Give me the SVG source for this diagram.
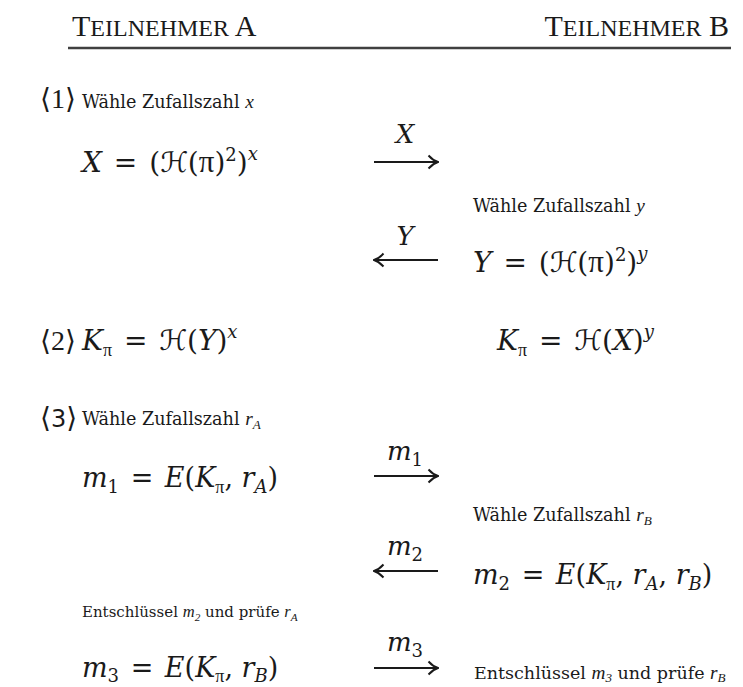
<svg xmlns="http://www.w3.org/2000/svg" width="743" height="687" viewBox="0 0 743 687">
<style>
.h{font-family:"Liberation Serif",serif;font-size:30px;fill:#1a1a1a}
.sc{font-size:24px}
.t{font-family:"DejaVu Serif",serif;font-size:17.6px;fill:#1a1a1a}
.t2{font-family:"DejaVu Serif",serif;font-size:15px;fill:#1a1a1a}
.t3{font-family:"DejaVu Serif",serif;font-size:17.5px;fill:#1a1a1a}
.m{font-family:"DejaVu Serif",serif;font-size:28px;fill:#1a1a1a}
.m2{font-family:"DejaVu Serif",serif;font-size:27px;fill:#1a1a1a}
.st{font-family:"Liberation Serif",serif;font-size:28px;fill:#1a1a1a}
.i{font-style:italic}
.cal{font-family:"DejaVu Serif","DejaVu Sans",serif;font-style:normal}
.pi{font-family:"Liberation Serif",serif;font-style:normal}
.sup{font-size:18px}
.sub{font-size:18px}
.ts{font-family:"Liberation Serif",serif;font-style:italic;font-size:1.1em}
.tsub{font-family:"Liberation Serif",serif;font-style:italic;font-size:0.75em}
.lbl{font-family:"DejaVu Serif",serif;font-size:26px;fill:#1a1a1a;text-anchor:middle}
.arr{stroke:#1a1a1a;stroke-width:2;fill:none}
</style>
<defs>
<marker id="ah" viewBox="0 0 12 16" refX="11" refY="8" markerWidth="12" markerHeight="16" markerUnits="userSpaceOnUse" orient="auto-start-reverse">
<path d="M1.5,1.5 Q6,6.5 11,8 Q6,9.5 1.5,14.5" fill="none" stroke="#1a1a1a" stroke-width="1.9"/>
</marker>
</defs>

<g id="header">
<text class="h" x="72" y="36">T<tspan class="sc">EILNEHMER</tspan> A</text>
<text class="h" x="729" y="36" text-anchor="end">T<tspan class="sc">EILNEHMER</tspan> B</text>
<line x1="68" y1="48" x2="731" y2="48" stroke="#404040" stroke-width="2.5"/>
</g>

<g id="step1">
<text class="st" x="40" y="108"><tspan class="cal">⟨</tspan>1<tspan class="cal">⟩</tspan></text>
</g>
<g id="a-choose-x">
<text class="t" x="82" y="108">Wähle Zufallszahl <tspan class="ts">x</tspan></text>
</g>
<g id="a-X">
<text class="m" x="82" y="172"><tspan class="i">X</tspan><tspan dx="3"> = </tspan><tspan dx="3">(</tspan><tspan class="cal">ℋ</tspan>(<tspan class="pi" font-size="31">π</tspan>)<tspan class="sup" dy="-11">2</tspan><tspan dy="11">)</tspan><tspan class="sup i" dy="-12">x</tspan></text>
</g>
<g id="b-choose-y">
<text class="t" x="473" y="212">Wähle Zufallszahl <tspan class="ts">y</tspan></text>
</g>
<g id="b-Y">
<text class="m" x="473" y="272"><tspan class="i">Y</tspan><tspan dx="3"> = </tspan><tspan dx="3">(</tspan><tspan class="cal">ℋ</tspan>(<tspan class="pi" font-size="31">π</tspan>)<tspan class="sup" dy="-11">2</tspan><tspan dy="11">)</tspan><tspan class="sup i" dy="-12">y</tspan></text>
</g>

<g id="step2">
<text class="st" x="40" y="350"><tspan class="cal">⟨</tspan>2<tspan class="cal">⟩</tspan></text>
</g>
<g id="a-K">
<text class="m" x="82" y="350"><tspan class="i">K</tspan><tspan class="sub pi" dy="6">π</tspan><tspan dy="-6" dx="3"> = </tspan><tspan class="cal" dx="3">ℋ</tspan>(<tspan class="i">Y</tspan>)<tspan class="sup i" dy="-12">x</tspan></text>
</g>
<g id="b-K">
<text class="m" x="497" y="350"><tspan class="i">K</tspan><tspan class="sub pi" dy="6">π</tspan><tspan dy="-6" dx="3"> = </tspan><tspan class="cal" dx="3">ℋ</tspan>(<tspan class="i">X</tspan>)<tspan class="sup i" dy="-12">y</tspan></text>
</g>

<g id="step3">
<text class="st" x="40" y="427"><tspan class="cal">⟨</tspan><tspan font-family="DejaVu Sans, sans-serif" font-size="24">3</tspan><tspan class="cal">⟩</tspan></text>
</g>
<g id="a-choose-rA">
<text class="t" x="82" y="425">Wähle Zufallszahl <tspan class="ts">r</tspan><tspan class="tsub" dy="4">A</tspan></text>
</g>
<g id="a-m1">
<text class="m2" x="82" y="487"><tspan class="i">m</tspan><tspan class="sub" dy="6">1</tspan><tspan dy="-6" dx="3"> = </tspan><tspan class="i" dx="3">E</tspan>(<tspan class="i">K</tspan><tspan class="sub pi" dy="6">π</tspan><tspan dy="-6">, </tspan><tspan class="i">r</tspan><tspan class="sub i" dy="6">A</tspan><tspan dy="-6">)</tspan></text>
</g>
<g id="b-choose-rB">
<text class="t" x="473" y="521">Wähle Zufallszahl <tspan class="ts">r</tspan><tspan class="tsub" dy="4">B</tspan></text>
</g>
<g id="b-m2">
<text class="m2" x="473" y="584"><tspan class="i">m</tspan><tspan class="sub" dy="6">2</tspan><tspan dy="-6" dx="3"> = </tspan><tspan class="i" dx="3">E</tspan>(<tspan class="i">K</tspan><tspan class="sub pi" dy="6">π</tspan><tspan dy="-6">, </tspan><tspan class="i">r</tspan><tspan class="sub i" dy="6">A</tspan><tspan dy="-6">, </tspan><tspan class="i">r</tspan><tspan class="sub i" dy="6">B</tspan><tspan dy="-6">)</tspan></text>
</g>
<g id="a-decrypt">
<text class="t2" x="82" y="617">Entschlüssel <tspan class="ts">m</tspan><tspan class="tsub" dy="4" font-style="normal">2</tspan><tspan dy="-4"> und prüfe </tspan><tspan class="ts">r</tspan><tspan class="tsub" dy="4">A</tspan></text>
</g>
<g id="a-m3">
<text class="m2" x="82" y="677"><tspan class="i">m</tspan><tspan class="sub" dy="5">3</tspan><tspan dy="-5" dx="3"> = </tspan><tspan class="i" dx="3">E</tspan>(<tspan class="i">K</tspan><tspan class="sub pi" dy="5">π</tspan><tspan dy="-5">, </tspan><tspan class="i">r</tspan><tspan class="sub i" dy="5">B</tspan><tspan dy="-5">)</tspan></text>
</g>
<g id="b-decrypt">
<text class="t3" x="474" y="679">Entschlüssel <tspan class="ts">m</tspan><tspan class="tsub" dy="3" font-style="normal">3</tspan><tspan dy="-3"> und prüfe </tspan><tspan class="ts">r</tspan><tspan class="tsub" dy="3">B</tspan></text>
</g>

<g id="connectors">
<line class="arr" x1="374" y1="162" x2="438" y2="162" marker-end="url(#ah)"/>
<text class="lbl" x="405" y="143"><tspan class="i">X</tspan></text>
<line class="arr" x1="438" y1="260" x2="374" y2="260" marker-end="url(#ah)"/>
<text class="lbl" x="405" y="245"><tspan class="i">Y</tspan></text>
<line class="arr" x1="374" y1="476" x2="438" y2="476" marker-end="url(#ah)"/>
<text class="lbl" x="405" y="460"><tspan class="i">m</tspan><tspan class="sub" dy="6">1</tspan></text>
<line class="arr" x1="438" y1="571" x2="374" y2="571" marker-end="url(#ah)"/>
<text class="lbl" x="405" y="555"><tspan class="i">m</tspan><tspan class="sub" dy="6">2</tspan></text>
<line class="arr" x1="374" y1="668" x2="438" y2="668" marker-end="url(#ah)"/>
<text class="lbl" x="405" y="651"><tspan class="i">m</tspan><tspan class="sub" dy="6">3</tspan></text>
</g>
</svg>
